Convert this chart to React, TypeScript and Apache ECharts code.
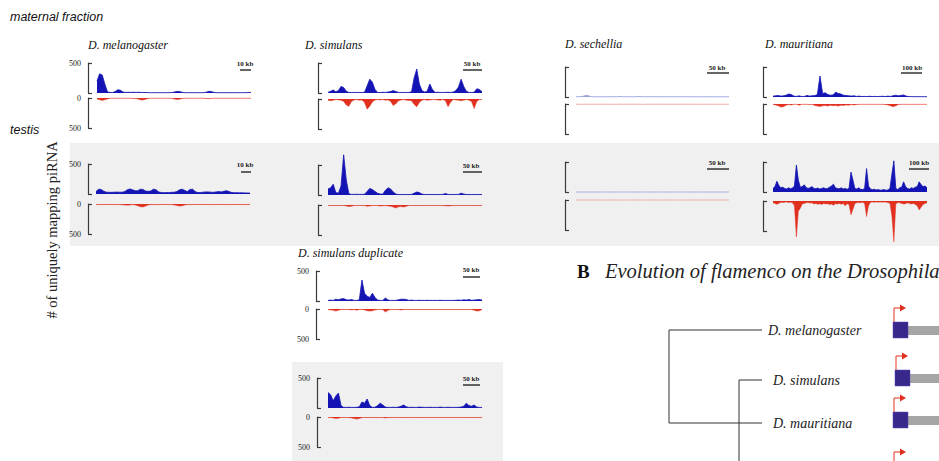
import React, { useEffect, useRef } from 'react';
import * as echarts from 'echarts';

// ---------- data (reads per bin) ----------
const melMatBlue = [200,320,300,150,20,8,8,25,55,45,15,10,12,10,12,10,12,10,8,8,6,5,5,5,5,5,5,5,6,10,20,28,20,8,5,5,5,5,5,5,5,6,15,28,22,8,5,5,5,5,5,5,5,5,5,5,5,5,8,10];
const melMatRed = [15,30,40,30,15,5,3,3,3,3,3,3,3,5,8,10,20,35,30,15,5,3,3,3,3,3,3,3,3,10,20,25,15,5,3,3,3,3,3,3,3,5,8,10,5,3,3,3,3,3,3,3,3,3,3,3,3,3,3,3];
const simMatBlue = [10,30,50,20,40,110,90,30,10,8,10,8,10,8,12,120,230,180,60,10,8,12,10,15,25,40,25,10,8,10,8,10,20,250,400,150,40,15,30,150,60,10,12,10,8,10,12,10,15,40,100,230,110,30,10,8,12,70,60,20];
const simMatRed = [20,30,20,10,15,20,40,100,120,40,15,10,20,15,60,170,120,50,15,10,15,10,20,15,40,110,80,30,15,10,20,25,30,90,130,60,20,10,20,15,10,10,15,20,10,30,130,50,10,15,20,30,20,10,20,40,160,40,10,10];
const secMatBlue = [3,5,8,15,30,18,5,3,3,3,4,3,3,5,3,3,6,8,3,3,3,5,3,3,8,6,3,3,3,6,3,3,5,3,3,5,3,3,3,5,3,3,3,6,3,3,3,3,3,3,3,3,4,3,3,3,3,3,3,3];
const secMatRed = [3,3,5,3,3,3,3,3,3,3,3,3,3,3,3,5,3,3,3,3,3,3,3,3,3,3,6,3,3,3,3,3,3,3,3,3,3,5,3,3,3,3,3,3,3,3,3,3,3,3,3,3,3,3,3,3,3,3,3,3];
const mauMatBlue = [15,20,25,15,20,30,50,40,15,10,20,8,10,25,15,20,25,40,350,60,70,40,30,35,80,60,50,30,25,20,15,20,10,15,8,10,8,12,8,10,8,10,12,8,15,10,20,30,20,25,35,15,8,6,5,5,5,5,5,5];
const mauMatRed = [10,15,30,50,45,20,10,15,5,5,20,5,5,5,10,5,25,35,40,30,25,35,20,30,25,35,20,25,15,20,10,15,10,5,5,5,5,5,5,5,5,5,5,10,15,30,45,30,10,5,5,5,5,5,5,5,5,5,5,5];
const melTesBlue = [40,80,75,45,30,28,28,30,32,30,30,40,70,85,70,55,55,80,75,50,45,50,80,70,35,25,22,25,22,28,30,40,70,80,60,40,75,80,40,25,25,30,35,35,30,28,35,40,35,45,55,40,25,22,22,20,20,18,18,15];
const melTesRed = [10,10,8,8,8,8,8,8,10,10,12,15,20,15,10,15,30,45,50,35,15,10,10,10,10,8,8,8,8,10,15,25,35,30,15,10,10,8,8,8,8,8,8,8,10,10,8,8,8,8,10,8,8,8,8,8,8,8,10,8];
const simTesBlue = [100,120,180,40,30,150,670,250,20,10,10,12,10,10,12,60,110,90,60,30,15,15,80,120,100,50,15,8,8,8,8,8,10,30,50,40,15,8,8,8,8,8,8,8,10,25,10,8,8,8,10,30,15,8,8,8,8,8,8,8];
const simTesRed = [8,10,8,8,10,8,10,15,25,20,8,8,8,8,10,20,15,8,8,10,15,12,10,15,20,35,50,30,25,35,20,10,8,8,8,10,8,8,8,8,8,8,8,8,10,12,15,12,8,8,8,8,10,8,8,8,8,10,8,8];
const secTesBlue = [0,0,0,0,0,0,0,0,0,0,0,0];
const secTesRed = [0,0,0,0,0,0,0,0,0,0,0,0];
const mauTesBlue = [60,90,180,110,70,80,60,50,70,55,65,100,450,200,80,90,120,75,60,70,90,60,55,65,50,60,70,55,60,80,100,130,70,60,55,70,50,60,45,60,330,200,60,50,70,45,40,60,390,100,50,40,45,35,40,30,35,40,30,35,60,300,520,60,40,70,80,170,90,60,50,70,60,80,90,170,120,90,100,70];
const mauTesRed = [30,40,55,40,20,25,20,15,25,20,30,80,600,170,120,50,40,30,25,35,30,50,40,55,45,60,40,50,45,60,50,70,45,50,40,55,40,80,45,60,230,140,40,30,25,30,20,40,260,80,20,15,20,15,20,15,20,15,20,25,40,250,680,50,25,30,40,50,45,30,40,50,40,60,80,150,100,60,40,30];
const simDupBlue = [10,15,10,30,20,35,40,20,15,25,10,10,20,350,130,80,60,130,60,15,10,10,50,15,10,10,10,20,30,30,25,10,15,10,10,12,10,10,12,10,10,10,10,12,10,10,10,10,10,12,15,12,20,15,25,12,15,20,25,15];
const simDupRed = [10,15,20,35,20,10,8,8,10,15,10,20,10,8,15,30,35,30,15,10,8,10,50,20,8,8,8,10,15,10,8,8,10,8,8,10,8,8,8,10,8,8,10,8,8,8,10,8,8,8,8,10,8,8,8,8,20,35,30,10];
const simDupTesBlue = [260,220,120,200,250,40,10,10,12,10,10,12,20,100,80,150,40,10,12,40,80,50,15,10,10,12,10,15,30,50,20,10,12,10,10,15,12,10,10,12,10,10,10,15,10,10,12,10,10,10,12,15,30,80,40,30,50,15,10,10];
const simDupTesRed = [8,10,15,25,20,8,8,8,10,15,25,35,25,10,8,8,8,10,8,10,8,10,15,10,8,8,8,8,8,8,10,8,8,8,8,8,10,8,8,8,8,8,8,10,8,8,8,8,8,10,8,8,8,8,8,10,8,8,10,8];

const axisMax = 500;
const scaleLabels = ['10 kb', '50 kb', '50 kb', '100 kb', '10 kb', '50 kb', '50 kb', '100 kb', '50 kb', '50 kb'];
const treeSpecies = ['D. melanogaster', 'D. simulans', 'D. mauritiana'];

// ---------- layout ----------
const BLUE = '#1414b4';
const RED = '#e2301f';
const FAINT_BLUE = '#9ca0dc';
const FAINT_RED = '#f2a2a0';

type Panel = {
  blue: number[]; red: number[];
  x0: number; x1: number; bb: number; rb: number; off: number; labels: boolean; faint?: boolean;
  sb: { cx: number; ty: number; l0: number; l1: number; ly: number };
};

const panels: Panel[] = [
  { blue: melMatBlue, red: melMatRed, x0: 97, x1: 251, bb: 93, rb: 98, off: 9, labels: true, sb: { cx: 245, ty: 64, l0: 240, l1: 251, ly: 70 } },
  { blue: simMatBlue, red: simMatRed, x0: 328, x1: 482, bb: 93, rb: 99, off: 10, labels: false, sb: { cx: 472, ty: 64, l0: 463, l1: 482, ly: 70 } },
  { blue: secMatBlue, red: secMatRed, x0: 576, x1: 729, bb: 97, rb: 104, off: 11, labels: false, faint: true, sb: { cx: 717, ty: 68, l0: 707, l1: 729, ly: 73 } },
  { blue: mauMatBlue, red: mauMatRed, x0: 773, x1: 927, bb: 97, rb: 104, off: 10, labels: false, sb: { cx: 912, ty: 68, l0: 901, l1: 922, ly: 73 } },
  { blue: melTesBlue, red: melTesRed, x0: 96, x1: 250, bb: 194, rb: 204, off: 8, labels: true, sb: { cx: 245, ty: 165, l0: 241, l1: 251, ly: 172 } },
  { blue: simTesBlue, red: simTesRed, x0: 328, x1: 482, bb: 195, rb: 205, off: 10, labels: false, sb: { cx: 471, ty: 166, l0: 463, l1: 482, ly: 172 } },
  { blue: secTesBlue, red: secTesRed, x0: 576, x1: 729, bb: 192, rb: 200, off: 11, labels: false, faint: true, sb: { cx: 717, ty: 163, l0: 707, l1: 729, ly: 169 } },
  { blue: mauTesBlue, red: mauTesRed, x0: 773, x1: 927, bb: 192, rb: 201, off: 10, labels: false, sb: { cx: 919, ty: 163, l0: 909, l1: 929, ly: 169 } },
  { blue: simDupBlue, red: simDupRed, x0: 328, x1: 482, bb: 301, rb: 309, off: 12, labels: true, sb: { cx: 471, ty: 270, l0: 463, l1: 480, ly: 277 } },
  { blue: simDupTesBlue, red: simDupTesRed, x0: 328, x1: 482, bb: 408, rb: 417, off: 11, labels: true, sb: { cx: 471, ty: 379, l0: 463, l1: 480, ly: 385 } },
];

const titles = [
  { text: 'D. melanogaster', x: 88, y: 45 },
  { text: 'D. simulans', x: 305, y: 45 },
  { text: 'D. sechellia', x: 565, y: 44 },
  { text: 'D. mauritiana', x: 765, y: 44 },
  { text: 'D. simulans duplicate', x: 298, y: 253 },
];

const SERIF = '"Liberation Serif", "Times New Roman", serif';

function buildOption() {
  const grid: any[] = [];
  const xAxis: any[] = [];
  const yAxis: any[] = [];
  const series: any[] = [];
  const axisLineStyle = { color: '#3a3a3a', width: 1.2 };

  panels.forEach((p, k) => {
    const parts = [
      { data: p.blue, top: p.bb - 30, inverse: false, line: p.faint ? FAINT_BLUE : BLUE, fill: p.faint ? FAINT_BLUE : BLUE },
      { data: p.red, top: p.rb, inverse: true, line: p.faint ? FAINT_RED : 'rgba(226,48,31,0.6)', fill: p.faint ? FAINT_RED : RED },
    ];
    parts.forEach((part, j) => {
      const gi = k * 2 + j;
      grid.push({ left: p.x0, width: p.x1 - p.x0, top: part.top, height: 30 });
      xAxis.push({ type: 'category', gridIndex: gi, show: false, boundaryGap: false, data: part.data.map((_, i) => i) });
      yAxis.push({
        type: 'value', gridIndex: gi, min: 0, max: axisMax, interval: axisMax, inverse: part.inverse,
        offset: p.off,
        axisLine: { show: true, lineStyle: axisLineStyle },
        axisTick: { show: true, inside: true, length: 4, lineStyle: axisLineStyle },
        splitLine: { show: false },
        axisLabel: {
          show: p.labels, fontSize: 8, fontFamily: SERIF, color: '#222222', margin: 7,
          formatter: (v: number) => (!part.inverse && v === 0 ? '' : String(v)),
        },
      });
      series.push({
        type: 'line', xAxisIndex: gi, yAxisIndex: gi, data: part.data, symbol: 'none', showSymbol: false,
        clip: false, silent: true,
        lineStyle: { color: part.line, width: 0.8 },
        areaStyle: { color: part.fill, opacity: 1 },
      });
    });
  });

  const g: any[] = [];
  // grey backgrounds for the testis rows
  g.push({ type: 'rect', z: -10, shape: { x: 70, y: 143, width: 869, height: 103 }, style: { fill: '#f0f0f0' } });
  g.push({ type: 'rect', z: -10, shape: { x: 292, y: 362, width: 211, height: 99 }, style: { fill: '#f0f0f0' } });

  // section labels
  g.push({ type: 'text', x: 10, y: 17, style: { text: 'maternal fraction', font: 'italic 12.5px "Liberation Sans", sans-serif', fill: '#111', verticalAlign: 'middle' } });
  g.push({ type: 'text', x: 10, y: 130, style: { text: 'testis', font: 'italic 12.5px "Liberation Sans", sans-serif', fill: '#111', verticalAlign: 'middle' } });
  g.push({ type: 'text', x: 52, y: 230, rotation: Math.PI / 2, style: { text: '# of uniquely mapping piRNA', font: `14.5px ${SERIF}`, fill: '#222', align: 'center', verticalAlign: 'middle' } });

  titles.forEach((t) => {
    g.push({ type: 'text', x: t.x, y: t.y, style: { text: t.text, font: `italic 12px ${SERIF}`, fill: '#111', verticalAlign: 'middle' } });
  });

  panels.forEach((p, k) => {
    g.push({ type: 'text', x: p.sb.cx, y: p.sb.ty, style: { text: scaleLabels[k], font: `bold 7px ${SERIF}`, fill: '#222', align: 'center', verticalAlign: 'middle' } });
    g.push({ type: 'line', shape: { x1: p.sb.l0, y1: p.sb.ly, x2: p.sb.l1, y2: p.sb.ly }, style: { stroke: '#333', lineWidth: 1.5 } });
  });

  // panel B
  g.push({ type: 'text', x: 577, y: 271, style: { text: 'B', font: `bold 19px ${SERIF}`, fill: '#111', verticalAlign: 'middle' } });
  g.push({ type: 'text', x: 605, y: 271, style: { text: 'Evolution of flamenco on the Drosophila', font: `italic 20.5px ${SERIF}`, fill: '#222', verticalAlign: 'middle' } });

  // tree
  const treeStroke = { stroke: '#333', lineWidth: 1, fill: 'none' };
  g.push({ type: 'polyline', shape: { points: [[762, 330], [669, 330], [669, 423], [762, 423]] }, style: treeStroke });
  g.push({ type: 'polyline', shape: { points: [[762, 380], [739, 380], [739, 461]] }, style: treeStroke });
  const leafY = [330, 380, 423];
  const leafX = [768, 773, 773];
  treeSpecies.forEach((s, i) => {
    g.push({ type: 'text', x: leafX[i], y: leafY[i], style: { text: s, font: `italic 14px ${SERIF}`, fill: '#222', verticalAlign: 'middle' } });
  });

  // gene models
  const genes = [
    { x: 893, y: 322 },
    { x: 895, y: 370 },
    { x: 893, y: 412 },
  ];
  genes.forEach((ge) => {
    g.push({ type: 'rect', shape: { x: ge.x + 15, y: ge.y + 4, width: 939 - ge.x - 15, height: 9 }, style: { fill: '#a6a6a6' } });
    g.push({ type: 'rect', shape: { x: ge.x, y: ge.y, width: 15, height: 16 }, style: { fill: '#38288c', stroke: '#5a4ab0', lineWidth: 0.5 } });
    g.push({ type: 'polyline', shape: { points: [[ge.x + 1, ge.y], [ge.x + 1, ge.y - 14], [ge.x + 8, ge.y - 14]] }, style: { stroke: RED, lineWidth: 1, fill: 'none' } });
    g.push({ type: 'polygon', shape: { points: [[ge.x + 7, ge.y - 17.5], [ge.x + 13, ge.y - 14], [ge.x + 7, ge.y - 10.5]] }, style: { fill: RED } });
  });
  // fourth (cut off) arrow
  g.push({ type: 'polyline', shape: { points: [[894, 461], [894, 452], [901, 452]] }, style: { stroke: RED, lineWidth: 1, fill: 'none' } });
  g.push({ type: 'polygon', shape: { points: [[900, 448.5], [906, 452], [900, 455.5]] }, style: { fill: RED } });

  return {
    animation: false,
    backgroundColor: '#ffffff',
    grid, xAxis, yAxis, series,
    graphic: { elements: g },
  };
}

export default function App() {
  const ref = useRef<HTMLDivElement>(null);
  useEffect(() => {
    if (!ref.current) return;
    const chart = echarts.init(ref.current, undefined, { renderer: 'svg' });
    chart.setOption(buildOption() as any);
    return () => chart.dispose();
  }, []);
  return <div ref={ref} style={{ position: 'absolute', left: 0, top: 0, width: 939, height: 461 }} />;
}
